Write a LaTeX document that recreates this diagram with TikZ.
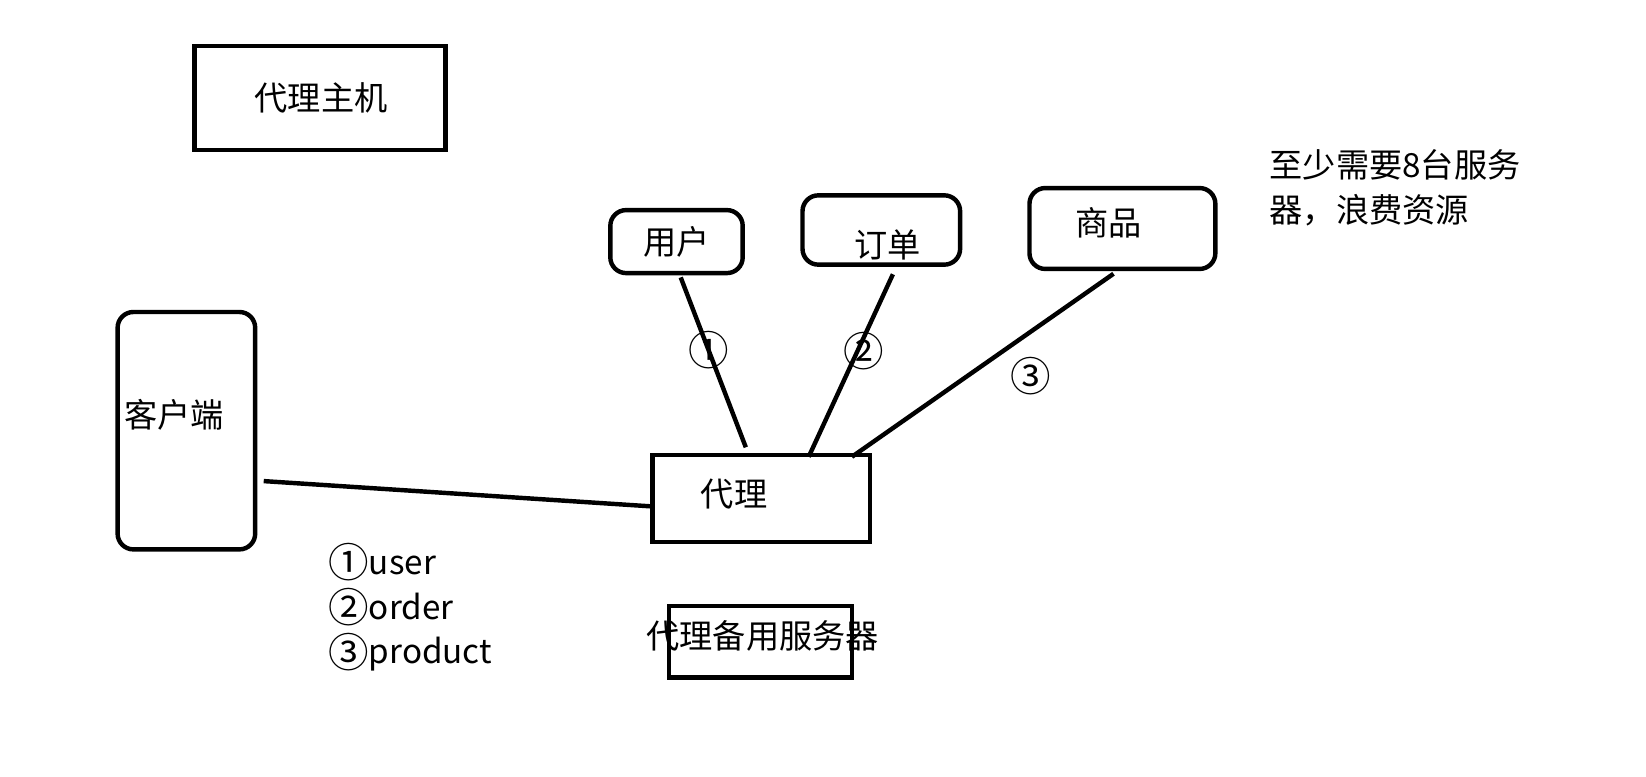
\documentclass[tikz,border=0pt]{standalone}
\usepackage{fontspec}
\setmainfont{Noto Sans CJK SC}
\usetikzlibrary{calc}

\newcommand{\cnum}[1]{\raisebox{-0.1em}{\scalebox{1.22}{#1}}}

\tikzset{
  box/.style={draw, line width=1.26pt, rectangle, inner sep=0pt},
  rbox/.style={box, rounded corners=0.158cm},
  link/.style={line width=1.26pt},
  every node/.append style={font=\fontsize{9.45pt}{12.6pt}\selectfont}
}

\begin{document}
\begin{tikzpicture}
    \node[box, minimum width=2.51cm, minimum height=1.04cm] (host) at (3.198,-0.982) {\raisebox{-0.95pt}{\hspace{0.74pt}代理主机}};
    \node[rbox, minimum width=1.324cm, minimum height=0.630cm] (yh) at (6.765,-2.416) {用户};
    \node[rbox, minimum width=1.576cm, minimum height=0.693cm, label={[shift={(0.063,-0.147)}]center:订单}] (dd) at (8.813,-2.300) {};
    \node[rbox, minimum width=1.859cm, minimum height=0.809cm, label={[shift={(-0.142,0.058)}]center:商品}] (sp) at (11.224,-2.285) {};
    \node[rbox, minimum width=1.376cm, minimum height=2.374cm, label={[shift={(-0.121,0.158)}]center:客户端}] (kh) at (1.864,-4.307) {};
    \node[box, minimum width=2.174cm, minimum height=0.872cm, label={[shift={(-0.268,0.047)}]center:代理}] (dl) at (7.610,-4.984) {};
    \node[box, minimum width=1.828cm, minimum height=0.714cm, label={[shift={(0.021,0.063)}]center:代理备用服务器}] (by) at (7.605,-6.418) {};

    \node[anchor=north west, align=left, inner sep=0pt] (note) at (12.689,-1.492) {至少需要8台服务\\器，浪费资源};
    \node[anchor=north west, align=left, inner sep=0pt, font=\fontsize{9.45pt}{12.7pt}\selectfont] (legend) at (3.277,-5.43) {\cnum{①}user\\\cnum{②}order\\\cnum{③}product};

    \draw[link] ([xshift=0.042cm,yshift=-0.021cm]yh.south) -- ([xshift=-0.152cm,yshift=0.053cm]dl.north) node[pos=0.43] (n1) {\cnum{①}};
    \draw[link] ([xshift=0.116cm,yshift=-0.074cm]dd.south) -- ([xshift=1.586cm,yshift=-0.042cm]dl.north west) node[pos=0.42, xshift=0.063cm] (n2) {\cnum{②}};
    \draw[link] ([xshift=-0.089cm,yshift=-0.026cm]sp.south) -- ([xshift=0.909cm,yshift=-0.042cm]dl.north) node[pos=0.44, xshift=0.326cm, yshift=-0.221cm] (n3) {\cnum{③}};
    \draw[link] ([xshift=0.063cm,yshift=-0.504cm]kh.east) -- ([yshift=-0.079cm]dl.west);

    \pgfresetboundingbox
    \useasboundingbox (0,0) rectangle (16.46,-7.77);
\end{tikzpicture}
\end{document}
